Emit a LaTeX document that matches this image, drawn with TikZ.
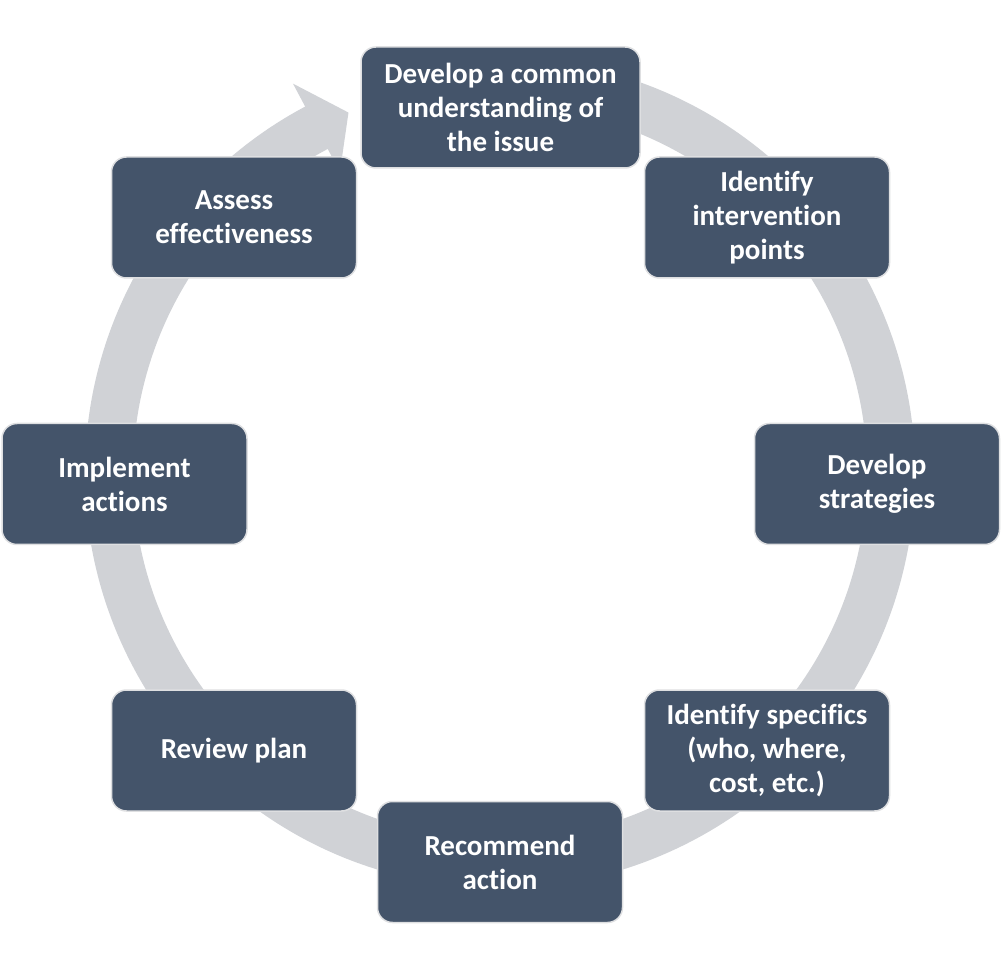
\documentclass[tikz,border=0pt]{standalone}
\usepackage{fontspec}
\setmainfont[Ligatures=NoCommon]{Carlito}
\usepackage{xcolor}
\usepackage{tikz}
\usetikzlibrary{positioning}
\definecolor{stagefill}{HTML}{44546A}
\definecolor{stageline}{HTML}{DEDFE1}
\definecolor{ringgrey}{HTML}{D0D2D6}

\begin{document}
\begin{tikzpicture}[x=1pt, y=1pt,
    stage/.style={draw=stageline, line width=1.5pt, fill=stagefill,
        rounded corners=15pt, minimum width=245pt, minimum height=121pt,
        align=center, text=white, font=\fontsize{29}{34}\selectfont\bfseries}]
    \useasboundingbox (0,0) rectangle (1001,970);
    % Ring
    \begin{scope}[shift={(500,497)}]
    \fill [ringgrey]
        (118:367) arc [start angle=118, end angle=440, radius=367]
        -- (440:415) arc [start angle=440, end angle=118, radius=415]
        -- (118:441) -- (112.8:391) -- (118:341) -- cycle;
    \end{scope}
    % Stages
    \node [stage, minimum width=279pt] (issue) at (500.5,862.5)
        {Develop a common\\understanding of\\the issue};
    \node [stage] (points) at (767,752.5) {Identify\\intervention\\points};
    \node [stage] (strategies) at (877,486) {Develop\\strategies};
    \node [stage] (specifics) at (767,219.5)
        {Identify specifics\\(who, where,\\cost, etc.)};
    \node [stage] (recommend) at (500,108) {Recommend\\action};
    \node [stage] (review) at (234,219.5) {Review plan};
    \node [stage] (implement) at (124.5,486) {Implement\\actions};
    \node [stage] (assess) at (234,752.5) {Assess\\effectiveness};
\end{tikzpicture}
\end{document}
